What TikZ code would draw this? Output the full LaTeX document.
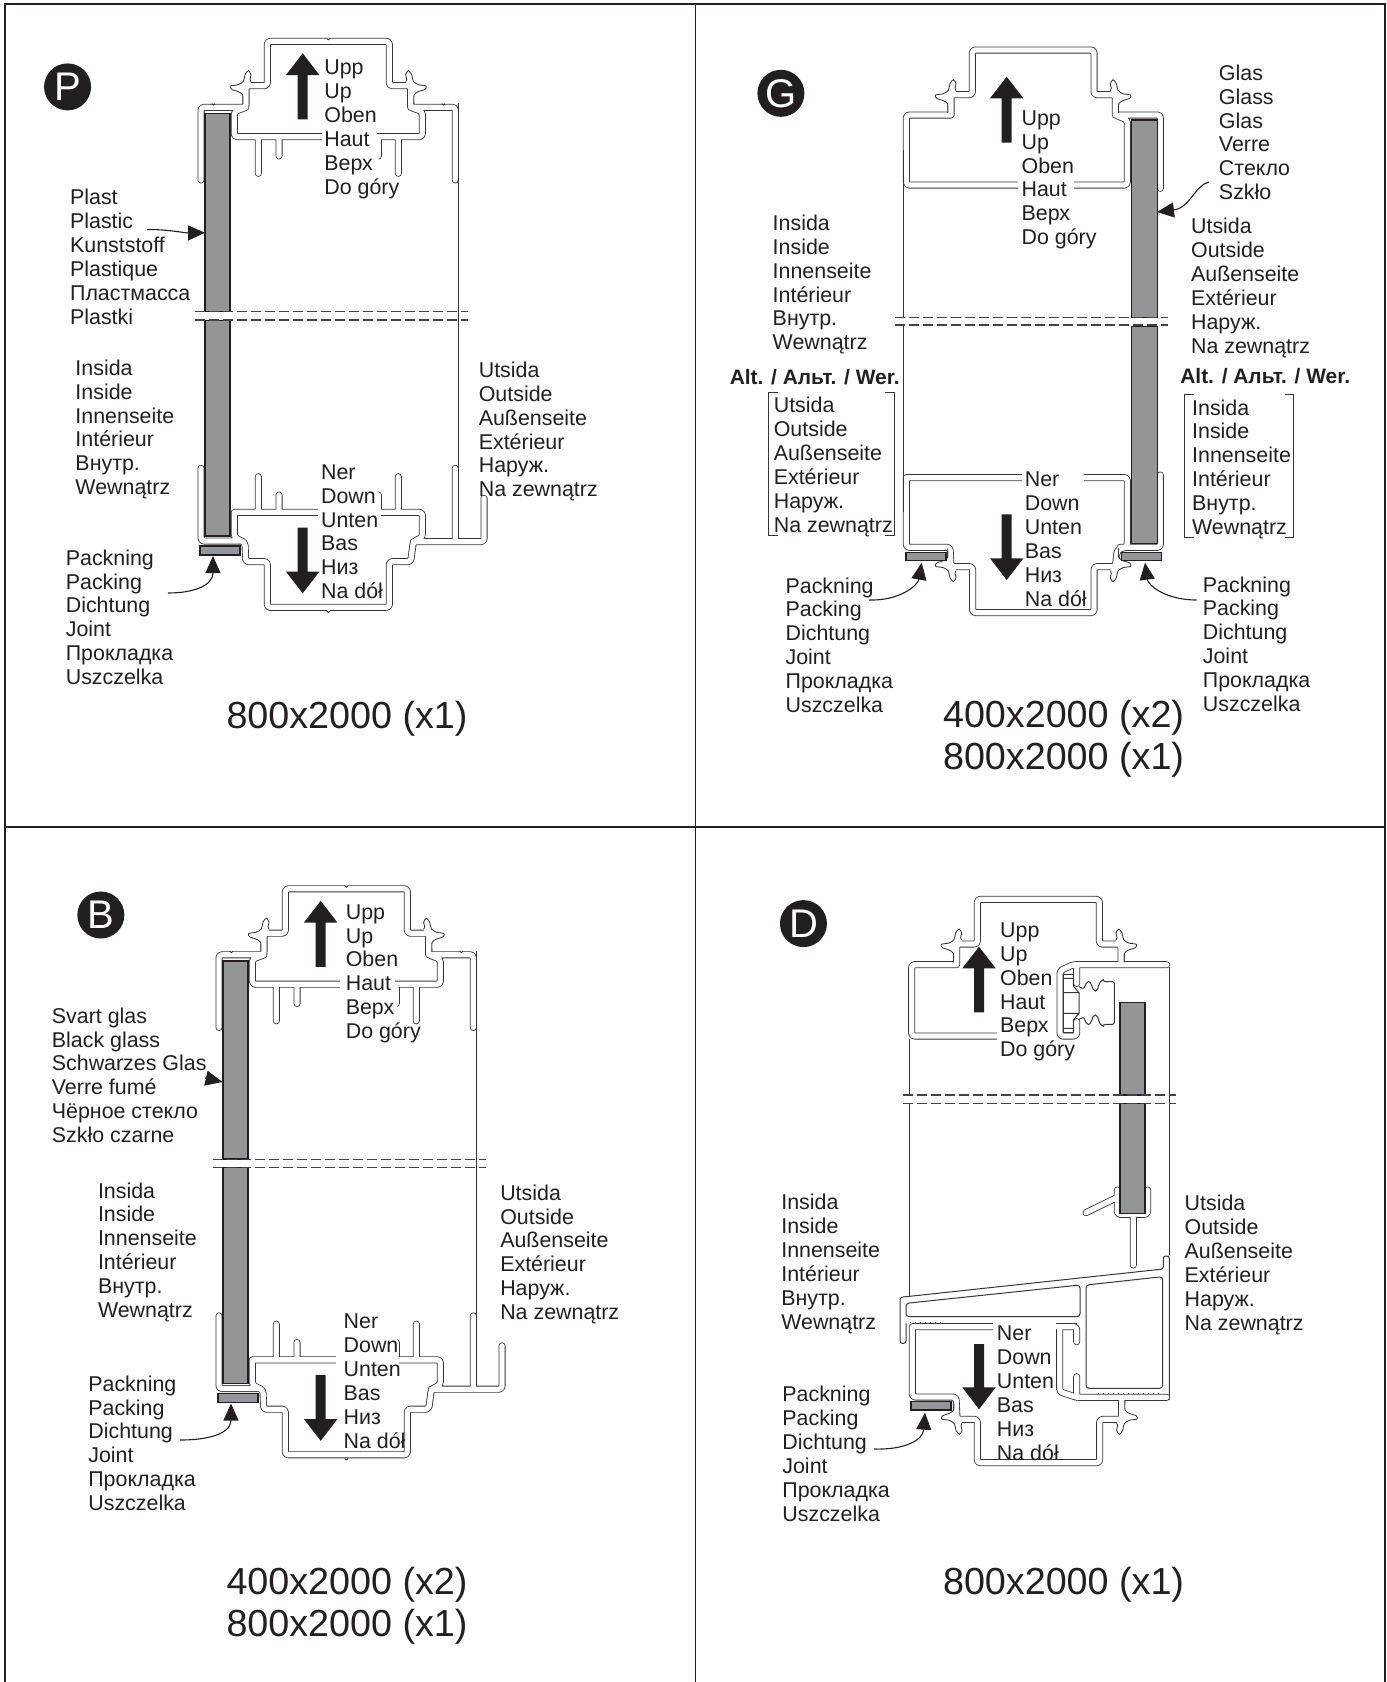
\documentclass[tikz,border=0pt]{standalone}
\usepackage{fontspec}
\setmainfont{Liberation Sans}
\usetikzlibrary{arrows.meta}
\definecolor{ink}{HTML}{231F20}
\definecolor{glassgray}{HTML}{939598}
\tikzset{
  x=0.5pt,y=-0.5pt,
  profO/.style={line width=3.5pt,draw=ink!90,line cap=round,line join=round,rounded corners=1.5pt},
  profI/.style={line width=2.65pt,draw=white,line cap=round,line join=round,rounded corners=1.5pt},
  thin line/.style={draw=ink!90,line width=0.5pt},
  wingline/.style={draw=ink!90,line width=0.43pt,fill=white},
  glassbox/.style={fill=glassgray,draw=ink,line width=0.8pt},
  blockarrow/.style={fill=ink,draw=none},
  breakline/.style={draw=ink!85,line width=0.7pt,dash pattern=on 5pt off 2pt},
  frameline/.style={draw=ink,line width=0.85pt},
  patch/.style={fill=white,draw=none},
  callout/.style={draw=ink,line width=0.55pt,-{Triangle[length=8.5pt,width=7.5pt]}},
  lab/.style={anchor=north west,inner sep=0pt,align=left,text=ink,font=\fontsize{10.7}{11.93}\selectfont},
  bighead/.style={anchor=center,inner sep=0pt,text=ink,font=\fontsize{18.85}{20}\selectfont},
  boldlab/.style={anchor=west,inner sep=0pt,text=ink,font=\bfseries\fontsize{10.45}{12}\selectfont},
  badge/.style={circle,fill=ink,text=white,inner sep=0pt,minimum size=23.5pt,font=\fontsize{20}{20}\selectfont},
}
\newcommand\dbl[1]{\draw[profO] #1; \draw[profI] #1;}
\newcommand\txt[4]{\node[lab] (#1) at ({#2*1.0727},{#3*1.0727-9}) {\rule{0pt}{8pt}#4};}
% flange with two tapered tips; #1,#2 junction, #3,#4 mirror signs
\newcommand\wing[4]{\begin{scope}[shift={(#1,#2)},xscale=#3,yscale=#4]
  \filldraw[wingline] plot[smooth,tension=0.5] coordinates {(15,-12) (12,-20) (15,-33) (7,-45) (-3,-33) (-8,-13) (-23,-3) (-46,1) (-43,11) (-23,18) (-10,28) (-10,55)};
\end{scope}}
\newcommand\notch[2]{\fill[patch] ({#1-4},{#2-2}) rectangle ({#1+4},{#2+2}); \draw[thin line] ({#1-5},#2) -- (#1,{#2+4}) -- ({#1+5},#2);}
\newcommand\updown{Upp\\Up\\Oben\\Haut\\Верх\\Do góry}
\newcommand\nedown{Ner\\Down\\Unten\\Bas\\Низ\\Na dół}
\newcommand\insida{Insida\\Inside\\Innenseite\\Intérieur\\Внутр.\\Wewnątrz}
\newcommand\utsida{Utsida\\Outside\\Außenseite\\Extérieur\\Наруж.\\Na zewnątrz}
\newcommand\packing{Packning\\Packing\\Dichtung\\Joint\\Прокладка\\Uszczelka}
% vertical block arrow: x, tail y, head base y, tip y
\newcommand\barrow[4]{\fill[blockarrow] ({#1-5},#2) -- ({#1+5},#2) -- ({#1+5},#3) -- ({#1+16.7},#3) -- (#1,#4) -- ({#1-16.7},#3) -- ({#1-5},#3) -- cycle;}
% profile used for panels P and B, in absolute coordinates of P
\newcommand\profPB{%
  \begin{scope}[shift={(180,30)},scale=0.33333]
    \dbl{(63,450) -- (63,232) -- (198,232) -- (198,167) -- (262,167) -- (262,34) -- (628,34) -- (628,167) -- (692,167) -- (692,232)
      (198,232) -- (163,245) -- (163,320) -- (727,320) -- (727,245) -- (692,232) -- (826,232) -- (826,450)
      (235,320) -- (235,430) (297,320) -- (297,378) (655,320) -- (655,430) (595,320) -- (595,378)}
    \wing{198}{167}{1}{1}
    \wing{692}{167}{-1}{1}
    \notch{445}{25}
    \notch{100}{221}
    \notch{790}{221}
    \fill[patch] (425,303) rectangle (592,336);
    \fill[patch] (425,334) rectangle (598,392);
    \draw[thin line] (836,220) -- (836,845);
    \fill[glassbox] (75,250) rectangle (150,845);
  \end{scope}
  \begin{scope}[shift={(180,430)},scale=0.33333]
    \dbl{(163,247) -- (727,247) -- (727,322) -- (700,335) -- (692,395) -- (628,395) -- (628,532) -- (262,532) -- (262,395) -- (197,395) -- (195,338) -- (163,322) -- (163,247)
      (700,335) -- (912,335) -- (912,205) (826,335) -- (826,115)
      (63,115) -- (63,333) -- (180,333)
      (235,247) -- (235,140) (297,247) -- (297,195) (655,247) -- (655,140) (595,247) -- (595,195)}
    \notch{445}{543}
    \fill[patch] (415,235) rectangle (603,263);
    \fill[patch] (415,185) rectangle (598,237);
    \draw[thin line] (836,-366) -- (836,215);
    \fill[glassbox] (75,-330) rectangle (150,318);
    \fill[glassgray,draw=ink,line width=0.7pt] (60,348) rectangle (180,375);
  \end{scope}
  \fill[white] (190,312.2) rectangle (240,319.5);
  \draw[breakline] (195,311.7) -- (468,311.7) (195,320) -- (468,320);
  \barrow{302.7}{119.3}{75}{53.3}
  \barrow{302.7}{527.7}{571.7}{593.3}
}
\begin{document}
\begin{tikzpicture}
\useasboundingbox (0,0) rectangle (1387,1682);
\fill[white] (0,0) rectangle (1387,1682);
% panel frames
\draw[frameline] (5,1682) -- (5,4.3) -- (1385,4.3) -- (1385,1682)
  (695.5,4.3) -- (695.5,1682) (5,827) -- (1385,827);

% ---------- P ----------
\profPB
% ---------- B ----------
\begin{scope}[shift={(18,847.5)}]
  \profPB
\end{scope}

% ---------- G ----------
\begin{scope}[shift={(880,30)},scale=0.33333]
  \dbl{(213,255) -- (79,255) -- (79,465) -- (742,465) -- (742,270) -- (706,255) -- (841,255) -- (841,475)
    (213,255) -- (213,194) -- (277,194) -- (277,60) -- (642,60) -- (642,194) -- (706,194) -- (706,255)}
  \wing{213}{194}{1}{1}
  \wing{706}{194}{-1}{1}
  \fill[patch] (415,452) rectangle (582,480);
  \draw[thin line] (70,360) -- (70,860);
  \fill[glassbox] (755,270) rectangle (832,862);
\end{scope}
\begin{scope}[shift={(880,440)},scale=0.33333]
  \dbl{(79,113) -- (742,113) -- (742,320) -- (712,330) -- (706,380) -- (642,380) -- (642,518) -- (278,518) -- (278,380) -- (213,380) -- (210,322) -- (79,322) -- (79,113)
    (720,322) -- (841,322) -- (841,105)}
  \wing{213}{380}{1}{-1}
  \wing{706}{380}{-1}{-1}
  \fill[patch] (425,100) rectangle (612,128);
  \draw[thin line] (70,-345) -- (70,215);
  \fill[glassbox] (755,-340) rectangle (832,310);
  \fill[glassgray,draw=ink,line width=0.7pt] (78,338) rectangle (198,362);
  \fill[glassgray,draw=ink,line width=0.7pt] (725,337) rectangle (845,362);
\end{scope}
\fill[white] (890,317.9) rectangle (1160,324.4);
\draw[breakline] (895,317.3) -- (1168,317.3) (895,325) -- (1168,325);
\barrow{1006.7}{142.7}{98.3}{76.7}
\barrow{1006.7}{514.3}{558.3}{580}

% ---------- D ----------
\begin{scope}[shift={(880,880)},scale=0.33333]
  \dbl{(230,254) -- (95,254) -- (95,468) -- (350,468)
    (230,254) -- (230,192) -- (292,192) -- (292,58) -- (658,58) -- (658,192) -- (723,192) -- (723,254)
    (860,254) -- (580,254) -- (540,272) -- (540,468) -- (590,468) -- (590,425)
    (590,254) -- (590,310)}
  \wing{230}{192}{1}{1}
  \wing{723}{192}{-1}{1}
  \fill[patch] (350,452) rectangle (522,485);
  \draw[thin line] (550,283) -- (550,458) -- (580,458) -- (580,420)
    (550,283) -- (580,283) -- (580,318) -- (597,338) -- (597,400) -- (580,420)
    (550,295) -- (580,295) (550,338) -- (597,338) (550,400) -- (597,400) (550,445) -- (580,445);
  \draw[thin line,rounded corners=1pt] (597,320) -- (612,327) .. controls (620,300) and (630,300) .. (637,322) .. controls (642,335) and (650,335) .. (655,322) .. controls (660,300) and (670,302) .. (670,305) -- (703,305) -- (703,433) -- (670,433) .. controls (670,436) and (660,438) .. (655,416) .. controls (650,403) and (642,403) .. (637,416) .. controls (630,438) and (620,438) .. (612,411) -- (597,418);
  \draw[thin line] (87,478) -- (87,645) (867,262) -- (867,645);
  \fill[glassbox] (720,368) rectangle (795,645);
\end{scope}
\begin{scope}[shift={(880,1170)},scale=0.33333]
  \dbl{(712,60) -- (712,133) -- (803,133) -- (803,60) (712,82) -- (618,128) (760,133) -- (760,285)}
  \fill[glassbox] (720,-200) rectangle (795,130);
  \draw[thin line] (87,-200) -- (87,380) (867,-490) -- (867,255);
  % sill
  \draw[thin line,rounded corners=1.2pt] (78,460) -- (78,520) -- (60,520) -- (60,382) -- (850,297) -- (850,258) -- (868,258) -- (868,690);
  \draw[thin line,rounded corners=1.5pt] (78,400) -- (600,345) -- (600,440) -- (78,440) -- cycle;
  \draw[thin line,rounded corners=1.5pt] (618,345) -- (848,320) -- (848,655) -- (618,655) -- cycle;
  \dbl{(97,470) -- (97,681) -- (228,681) -- (231,748) -- (292,748) -- (292,878) -- (659,878) -- (659,748) -- (725,748) -- (725,682)
    (97,470) -- (340,470)
    (530,470) -- (590,470) -- (590,515)
    (539,470) -- (539,665) -- (590,682) -- (860,682) (590,620) -- (590,682)}
  \wing{231}{748}{1}{-1}
  \wing{725}{748}{-1}{-1}
  \fill[patch] (340,452) rectangle (528,492);
  \draw[thin line] (530,480) -- (530,660) (530,460) -- (590,460);
  \draw[ink,line width=0.5pt,dotted] (90,458) -- (190,458) (655,670) -- (850,670);
  \fill[glassgray,draw=ink,line width=0.7pt] (93,695) rectangle (213,720);
\end{scope}
\fill[white] (1110,1095.8) rectangle (1150,1102.6);
\draw[breakline] (903,1095) -- (1176,1095) (903,1103.3) -- (1176,1103.3);
\barrow{979}{1012.3}{968.3}{946.7}
\barrow{979}{1344}{1387.3}{1409.3}

% ---------- brackets ----------
\begin{scope}[scale=1.0727]
  \draw[thin line] (725,366) -- (716,366) -- (716,499) -- (725,499) (825,366) -- (834,366) -- (834,499) -- (825,499);
  \draw[thin line] (1113,368) -- (1104,368) -- (1104,501) -- (1113,501) (1198,368) -- (1206,368) -- (1206,501) -- (1198,501);
\end{scope}

% ---------- labels ----------
\txt{pup}{302}{63}{\updown}
\txt{pplast}{65}{184}{Plast\\Plastic\\Kunststoff\\Plastique\\Пластмасса\\Plastki}
\txt{pins}{70}{343}{\insida}
\txt{puts}{446}{345}{\utsida}
\txt{pner}{299}{440}{\nedown}
\txt{ppack}{61}{520}{\packing}
\node[bighead] (psize) at ({323.5*1.0727},{670*1.0727}) {800x2000 (x1)};
\node[badge] (pbadge) at ({63*1.0727},{81*1.0727}) {P};

\txt{gup}{952}{110}{\updown}
\txt{gins}{720}{208}{\insida}
\txt{gglas}{1136}{68}{Glas\\Glass\\Glas\\Verre\\Стекло\\Szkło}
\txt{guts}{1110}{211}{\utsida}
\node[boldlab] (galtl) at ({680*1.0727},{352*1.0727}) {Alt. / Альт. / Wer.};
\node[boldlab] (galtr) at ({1100*1.0727},{351*1.0727}) {Alt. / Альт. / Wer.};
\txt{gutsb}{721}{378}{\utsida}
\txt{ginsb}{1111}{380}{\insida}
\txt{gner}{955}{447}{\nedown}
\txt{gpackl}{732}{546}{\packing}
\txt{gpackr}{1121}{545}{\packing}
\node[bighead,align=center,font=\fontsize{18.85}{21}\selectfont] (gsize) at ({991.5*1.0727},{689*1.0727}) {400x2000 (x2)\\800x2000 (x1)};
\node[badge] (gbadge) at ({728*1.0727},{87*1.0727}) {G};

\txt{bup}{322}{850}{\updown}
\txt{bsvart}{48}{947}{Svart glas\\Black glass\\Schwarzes Glas\\Verre fumé\\Чёрное стекло\\Szkło czarne}
\txt{bins}{91}{1110}{\insida}
\txt{buts}{466}{1112}{\utsida}
\txt{bner}{320}{1232}{\nedown}
\txt{bpack}{82}{1290}{\packing}
\node[bighead,align=center,font=\fontsize{18.85}{21}\selectfont] (bsize) at ({323.5*1.0727},{1496.5*1.0727}) {400x2000 (x2)\\800x2000 (x1)};
\node[badge] (bbadge) at ({94*1.0727},{853*1.0727}) {B};

\txt{dup}{932}{867}{\updown}
\txt{dins}{728}{1121}{\insida}
\txt{duts}{1104}{1122}{\utsida}
\txt{dner}{929}{1243}{\nedown}
\txt{dpack}{729}{1300}{\packing}
\node[bighead] (dsize) at ({991.5*1.0727},{1477*1.0727}) {800x2000 (x1)};
\node[badge] (dbadge) at ({749*1.0727},{861*1.0727}) {D};

% ---------- callouts ----------
\coordinate (c1a) at (147,229.6); \coordinate (c1b) at (205,232.7);
\draw[callout] (c1a) .. controls (165,229) and (185,233) .. (c1b);
\coordinate (c2a) at (168,593); \coordinate (c2b) at (213,556);
\draw[callout] (c2a) .. controls (195,593) and (213,585) .. (c2b);
\coordinate (c3a) at (1209,182); \coordinate (c3b) at (1157,212);
\draw[callout] (c3a) .. controls (1195,185) and (1190,208) .. (c3b);
\coordinate (c4a) at (869,600); \coordinate (c4b) at (921.7,562.7);
\draw[callout] (c4a) .. controls (900,601) and (918,585) .. (c4b);
\coordinate (c5a) at (1196.7,600); \coordinate (c5b) at (1145,562.7);
\draw[callout] (c5a) .. controls (1165,600) and (1148,585) .. (c5b);
\coordinate (c6a) at (205,1078); \coordinate (c6b) at (222.5,1082);
\draw[callout] (c6a) -- (c6b);
\coordinate (c7a) at (180,1440); \coordinate (c7b) at (231,1403.5);
\draw[callout] (c7a) .. controls (213,1440) and (231,1432) .. (c7b);
\coordinate (c8a) at (874,1449); \coordinate (c8b) at (925,1412.7);
\draw[callout] (c8a) .. controls (905,1450) and (923,1440) .. (c8b);
\end{tikzpicture}
\end{document}
